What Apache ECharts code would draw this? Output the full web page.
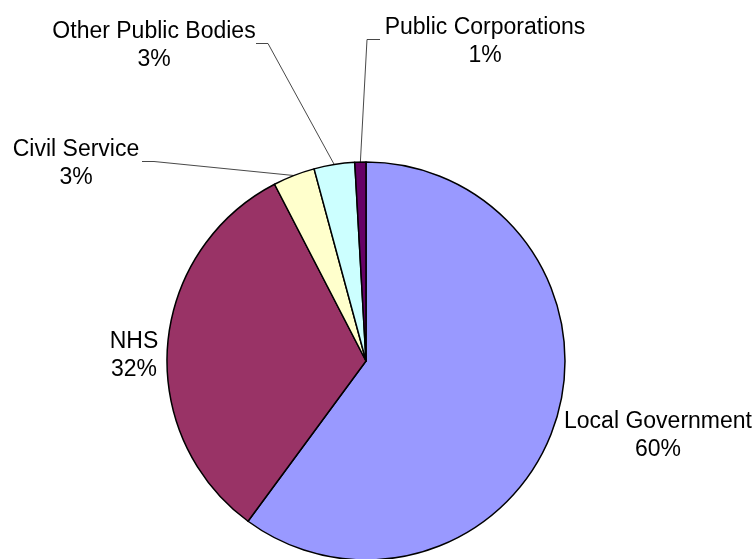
<!DOCTYPE html>
<html>
<head>
<meta charset="utf-8">
<script src="https://cdn.jsdelivr.net/npm/echarts@6/dist/echarts.min.js"></script>
<style>
html,body{margin:0;padding:0;background:#fff;}
#chart{width:753px;height:559px;}
</style>
</head>
<body>
<div id="chart"></div>
<script>
// Data
var categories = ['Local Government', 'NHS', 'Civil Service', 'Other Public Bodies', 'Public Corporations'];
var shares = [60.1, 32.3, 3.4, 3.3, 0.9];
var colors = ['#9999FF', '#993366', '#FFFFCC', '#CCFFFF', '#660066'];

// Label placement (styling only): y is the leader-line level, text drawn slightly lower
var labelPlace = {
  'Local Government':    { x: 658, y: 433, line: false },
  'NHS':                 { x: 134, y: 353, line: false },
  'Civil Service':       { x: 76,  y: 161, line: true, cx: 154, ex: 142 },
  'Other Public Bodies': { x: 154, y: 43,  line: true, cx: 268, ex: 256 },
  'Public Corporations': { x: 485, y: 39,  line: true, cx: 367, ex: 380 }
};
var textDrop = 3;

var total = shares.reduce(function (a, b) { return a + b; }, 0);

var data = categories.map(function (c, i) {
  return {
    name: c,
    value: shares[i],
    itemStyle: { color: colors[i] },
    labelLine: { show: labelPlace[c].line }
  };
});

var chart = echarts.init(document.getElementById('chart'), null, { renderer: 'canvas' });
chart.setOption({
  backgroundColor: '#ffffff',
  animation: false,
  series: [{
    type: 'pie',
    center: [366, 361],
    radius: 199,
    startAngle: 90,
    clockwise: true,
    avoidLabelOverlap: false,
    data: data,
    itemStyle: { borderColor: '#000', borderWidth: 1.5 },
    emphasis: { disabled: true },
    label: {
      show: true,
      position: 'outside',
      color: '#000',
      fontFamily: '"Liberation Sans", Arial, sans-serif',
      fontSize: 23,
      lineHeight: 28,
      align: 'center',
      formatter: function (p) {
        return p.name + '\n' + Math.round(p.value / total * 100) + '%';
      }
    },
    labelLine: {
      show: true,
      length: 20,
      length2: 10,
      smooth: false,
      lineStyle: { color: '#333', width: 0.9 }
    },
    labelLayout: function (params) {
      var name = categories[params.dataIndex];
      var lp = labelPlace[name];
      var res = { x: lp.x, y: lp.y + textDrop, align: 'center', verticalAlign: 'middle' };
      if (lp.line && params.labelLinePoints) {
        var s = params.labelLinePoints[0];
        res.labelLinePoints = [[s[0], s[1]], [lp.cx, lp.y + 0.5], [lp.ex, lp.y + 0.5]];
      }
      return res;
    }
  }]
});
</script>
</body>
</html>
